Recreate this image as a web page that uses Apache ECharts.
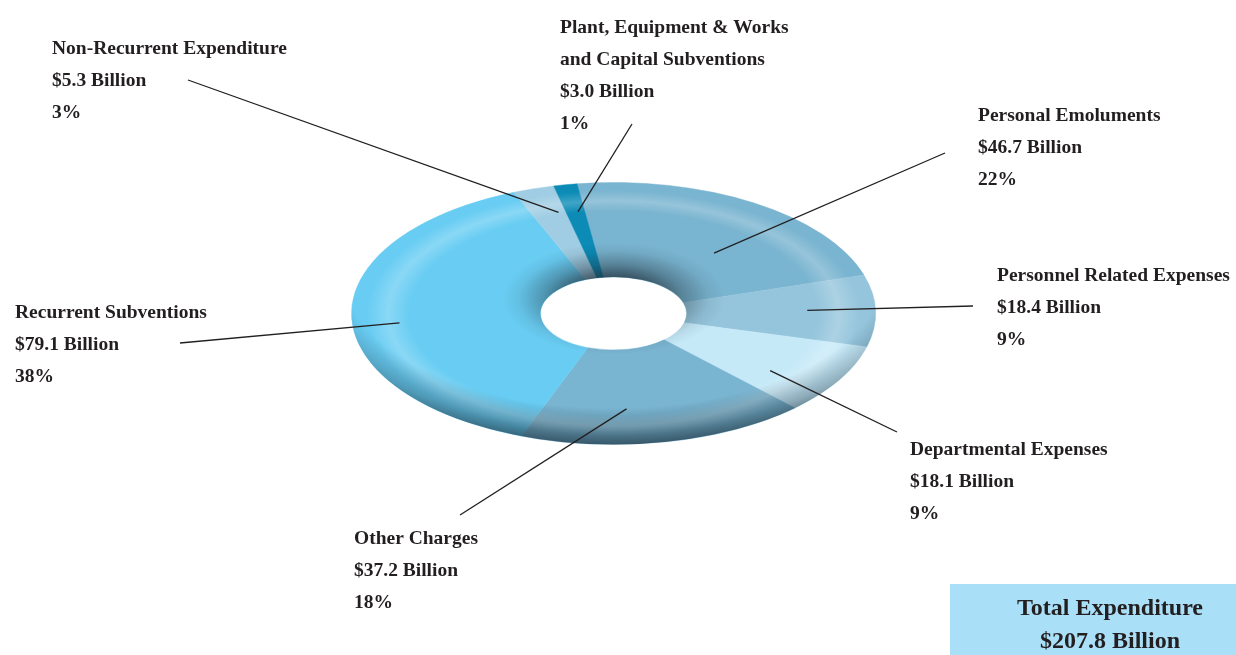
<!DOCTYPE html>
<html>
<head>
<meta charset="utf-8">
<script src="https://cdn.jsdelivr.net/npm/echarts@6/dist/echarts.min.js"></script>
<style>
html,body{margin:0;padding:0;background:#fff;}
#main{width:1236px;height:655px;}
</style>
</head>
<body>
<div id="main"></div>
<script>
// ---- data ----
const categories = ['Personal Emoluments', 'Personnel Related Expenses', 'Departmental Expenses', 'Other Charges', 'Recurrent Subventions', 'Non-Recurrent Expenditure', 'Plant, Equipment & Works\nand Capital Subventions'];
const values = [46.7, 18.4, 18.1, 37.2, 79.1, 5.3, 3.0];
const percents = [22, 9, 9, 18, 38, 3, 1];
const totalLabel = ['Total Expenditure', '$207.8 Billion'];

// ---- layout / style ----
const colors = ['#79b4d0', '#95c5dc', '#c6e9f8', '#79b4d0', '#69cdf3', '#a0cde3', '#0b8bb6'];
const CX = 613.5, CY = 313.5, R = 262, R0 = 73, K = 0.5, START = 98;
const labelTopLeft = [[978, 100], [997, 260], [910, 434], [354, 523], [15, 297], [52, 33], [560, 12]];
const lineOuter = [[945, 153], [973, 306], [897, 432], [460, 515], [180, 343], [188, 80], [632, 124]];
const anchorTR = [[0.59, 0.6], [0.48, 0.74], [0.68, 0.74], [0.62, 0.73], [0.47, 0.82], [0.78, 0.8], [0.64, 0.79]];
const FONT = 'bold 19.5px "Liberation Serif", "Times New Roman", serif';

const total = values.reduce((a, b) => a + b, 0);
let acc = START;
const sliceData = values.map((v, i) => {
  const s = acc; const e = acc - v / total * 360; acc = e;
  return [s, e, i];
});

function renderSlice(params, api) {
  const s = api.value(0), e = api.value(1), i = api.value(2);
  return {
    type: 'group', x: CX, y: CY, scaleY: K,
    children: [{
      type: 'sector',
      shape: { cx: 0, cy: 0, r0: R0, r: R, startAngle: -s * Math.PI / 180, endAngle: -e * Math.PI / 180, clockwise: true },
      style: { fill: colors[i], stroke: colors[i], lineWidth: 0.6 }
    }]
  };
}

function ring(fill) {
  return { type: 'sector', shape: { cx: 0, cy: 0, r0: R0, r: R, startAngle: 0, endAngle: Math.PI * 2 }, style: { fill: fill }, silent: true };
}

function renderShade(params, api) {
  const highlight = new echarts.graphic.RadialGradient(0, 0, R, [
    { offset: 0, color: 'rgba(255,255,255,0)' },
    { offset: 0.78, color: 'rgba(255,255,255,0)' },
    { offset: 0.86, color: 'rgba(255,255,255,0.22)' },
    { offset: 0.94, color: 'rgba(255,255,255,0)' },
    { offset: 1, color: 'rgba(255,255,255,0)' }
  ], true);
  const outerDark = new echarts.graphic.RadialGradient(0, -80, 345, [
    { offset: 0, color: 'rgba(25,45,58,0)' },
    { offset: 0.78, color: 'rgba(25,45,58,0)' },
    { offset: 0.9, color: 'rgba(25,45,58,0.32)' },
    { offset: 1, color: 'rgba(25,45,58,0.72)' }
  ], true);
  const innerDark = new echarts.graphic.RadialGradient(0, -30, 112, [
    { offset: 0, color: 'rgba(30,45,55,0.75)' },
    { offset: 0.4, color: 'rgba(30,45,55,0.7)' },
    { offset: 0.62, color: 'rgba(30,45,55,0.35)' },
    { offset: 0.85, color: 'rgba(30,45,55,0.08)' },
    { offset: 1, color: 'rgba(30,45,55,0)' }
  ], true);
  return {
    type: 'group', x: CX, y: CY, scaleY: K,
    children: [ring(highlight), ring(outerDark), ring(innerDark)]
  };
}

function renderLabel(params, api) {
  const i = api.value(0);
  const d = sliceData[i];
  const t = anchorTR[i][0], rf = anchorTR[i][1];
  const th = (d[0] + (d[1] - d[0]) * t) * Math.PI / 180;
  const ax = CX + R * rf * Math.cos(th), ay = CY - K * R * rf * Math.sin(th);
  const txt = categories[i] + '\n$' + values[i].toFixed(1) + ' Billion\n' + percents[i] + '%';
  return {
    type: 'group',
    children: [
      { type: 'polyline', shape: { points: [lineOuter[i], [ax, ay]] }, style: { stroke: '#231f20', lineWidth: 1.3, fill: null } },
      { type: 'text', x: labelTopLeft[i][0], y: labelTopLeft[i][1],
        style: { text: txt, font: FONT, fill: '#231f20', lineHeight: 32, verticalAlign: 'top', align: 'left' } }
    ]
  };
}

const chart = echarts.init(document.getElementById('main'), null, { renderer: 'canvas' });
chart.setOption({
  animation: false,
  backgroundColor: '#ffffff',
  series: [
    { type: 'custom', coordinateSystem: 'none', data: sliceData, renderItem: renderSlice, z: 2 },
    { type: 'custom', coordinateSystem: 'none', data: [[0]], renderItem: renderShade, z: 3, silent: true },
    { type: 'custom', coordinateSystem: 'none', data: categories.map((c, i) => [i]), renderItem: renderLabel, z: 5 }
  ],
  graphic: [
    { type: 'rect', shape: { x: 950, y: 584, width: 286, height: 71 }, style: { fill: '#a9e0f8' }, z: 1 },
    { type: 'text', x: 1110, y: 592, z: 2,
      style: { text: totalLabel.join('\n'), font: 'bold 24px "Liberation Serif", "Times New Roman", serif', fill: '#231f20', lineHeight: 33, align: 'center', verticalAlign: 'top' } }
  ]
});
</script>
</body>
</html>
